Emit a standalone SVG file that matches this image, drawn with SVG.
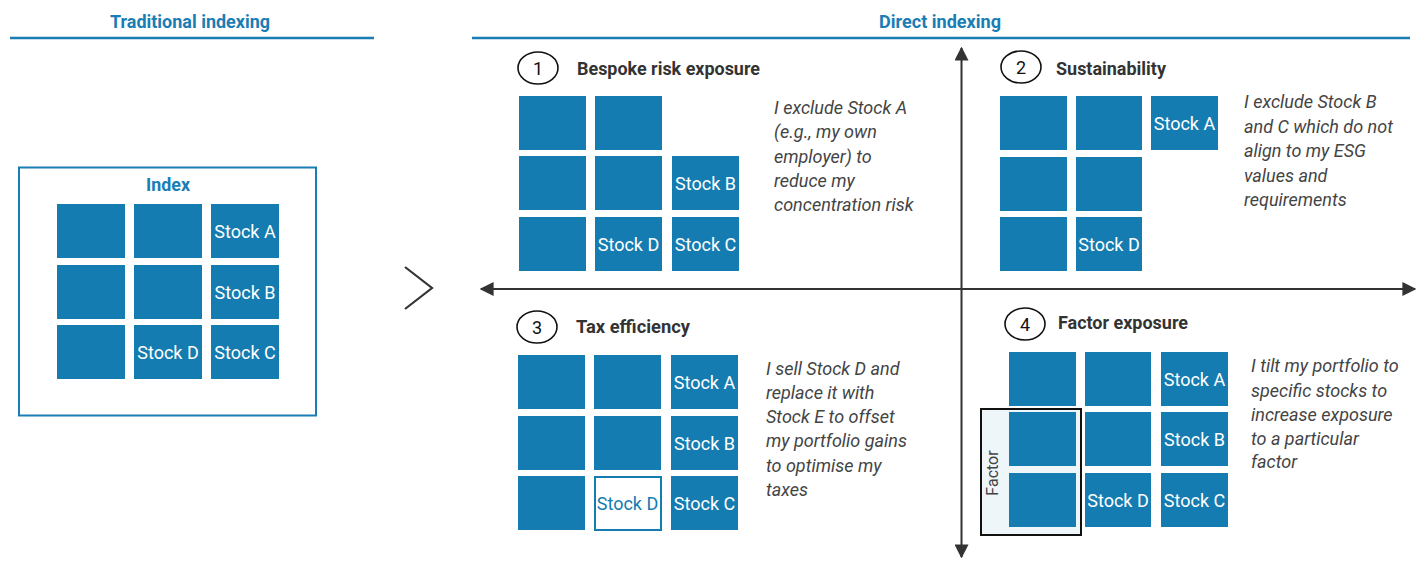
<svg xmlns="http://www.w3.org/2000/svg" width="1427" height="563" viewBox="0 0 1427 563">
<style>
.hdr{font-family:Roboto,"Liberation Sans",sans-serif;font-weight:bold;font-size:18px;fill:#1a7db5}
.rule{stroke:#1a7db5;stroke-width:2.5}
.sq{fill:#147cb0}
.sqw{fill:#fff;stroke:#147cb0;stroke-width:2}
.lbl{font-family:Roboto,"Liberation Sans",sans-serif;font-size:18px;fill:#fff;text-anchor:middle}
.lblb{font-family:Roboto,"Liberation Sans",sans-serif;font-size:18px;fill:#147cb0;text-anchor:middle}
.num{fill:none;stroke:#111;stroke-width:1.6}
.numt{font-family:Roboto,"Liberation Sans",sans-serif;font-size:18px;fill:#111;text-anchor:middle}
.ttl{font-family:Roboto,"Liberation Sans",sans-serif;font-weight:bold;font-size:18px;fill:#333}
.desc{font-family:Roboto,"Liberation Sans",sans-serif;font-style:italic;font-size:18px;fill:#444}
.axis{stroke:#333;stroke-width:2;fill:none}
</style>
<defs>
<marker id="ah" viewBox="0 0 10 10" refX="9" refY="5" markerWidth="7" markerHeight="7" orient="auto-start-reverse" markerUnits="strokeWidth">
<path d="M0,0 L10,5 L0,10 z" fill="#333"/>
</marker>
</defs>
<rect width="1427" height="563" fill="#fff"/>

<g id="traditional-header">
<text class="hdr" x="190" y="28" text-anchor="middle" textLength="160" lengthAdjust="spacingAndGlyphs">Traditional indexing</text>
<line class="rule" x1="10" y1="38" x2="374" y2="38"/>
</g>
<g id="direct-header">
<text class="hdr" x="940" y="28" text-anchor="middle" textLength="122" lengthAdjust="spacingAndGlyphs">Direct indexing</text>
<line class="rule" x1="472" y1="38" x2="1410" y2="38"/>
</g>

<g id="index">
<rect x="19" y="167.5" width="297" height="248" fill="none" stroke="#1a7db5" stroke-width="2"/>
<text class="hdr" x="168" y="191" text-anchor="middle" textLength="44" lengthAdjust="spacingAndGlyphs">Index</text>
<rect class="sq" x="57" y="204" width="68" height="54"/>
<rect class="sq" x="134" y="204" width="68" height="54"/>
<rect class="sq" x="211" y="204" width="68" height="54"/>
<rect class="sq" x="57" y="265" width="68" height="54"/>
<rect class="sq" x="134" y="265" width="68" height="54"/>
<rect class="sq" x="211" y="265" width="68" height="54"/>
<rect class="sq" x="57" y="325" width="68" height="54"/>
<rect class="sq" x="134" y="325" width="68" height="54"/>
<rect class="sq" x="211" y="325" width="68" height="54"/>
<text class="lbl" x="245" y="238">Stock A</text>
<text class="lbl" x="245" y="299">Stock B</text>
<text class="lbl" x="168" y="359">Stock D</text>
<text class="lbl" x="245" y="359">Stock C</text>
</g>

<g id="chevron">
<polyline points="405,267 432,288 405,309" fill="none" stroke="#333" stroke-width="2.2"/>
</g>

<g id="connectors">
<line class="axis" x1="961.5" y1="557" x2="961.5" y2="48" marker-start="url(#ah)" marker-end="url(#ah)"/>
<line class="axis" x1="481" y1="289" x2="1415" y2="289" marker-start="url(#ah)" marker-end="url(#ah)"/>
</g>

<g id="q1">
<ellipse class="num" cx="538" cy="68" rx="20" ry="16"/>
<text class="numt" x="538" y="75">1</text>
<text class="ttl" x="577" y="75" textLength="183" lengthAdjust="spacingAndGlyphs">Bespoke risk exposure</text>
<rect class="sq" x="519" y="96" width="67" height="54"/>
<rect class="sq" x="595" y="96" width="67" height="54"/>
<rect class="sq" x="519" y="156" width="67" height="54"/>
<rect class="sq" x="595" y="156" width="67" height="54"/>
<rect class="sq" x="672" y="156" width="67" height="54"/>
<rect class="sq" x="519" y="217" width="67" height="54"/>
<rect class="sq" x="595" y="217" width="67" height="54"/>
<rect class="sq" x="672" y="217" width="67" height="54"/>
<text class="lbl" x="705.5" y="190">Stock B</text>
<text class="lbl" x="628.5" y="251">Stock D</text>
<text class="lbl" x="705.5" y="251">Stock C</text>
<text class="desc"><tspan x="774" y="114">I exclude Stock A</tspan><tspan x="774" y="138">(e.g., my own</tspan><tspan x="774" y="163">employer) to</tspan><tspan x="774" y="187">reduce my</tspan><tspan x="774" y="211">concentration risk</tspan></text>
</g>

<g id="q2">
<ellipse class="num" cx="1021" cy="67" rx="20" ry="16"/>
<text class="numt" x="1021" y="74">2</text>
<text class="ttl" x="1056" y="75" textLength="110" lengthAdjust="spacingAndGlyphs">Sustainability</text>
<rect class="sq" x="1000" y="96" width="67" height="54"/>
<rect class="sq" x="1076" y="96" width="66" height="54"/>
<rect class="sq" x="1151" y="96" width="67" height="54"/>
<rect class="sq" x="1000" y="157" width="67" height="54"/>
<rect class="sq" x="1076" y="157" width="66" height="54"/>
<rect class="sq" x="1000" y="217" width="67" height="54"/>
<rect class="sq" x="1076" y="217" width="66" height="54"/>
<text class="lbl" x="1184.5" y="130">Stock A</text>
<text class="lbl" x="1109" y="251">Stock D</text>
<text class="desc"><tspan x="1244" y="108">I exclude Stock B</tspan><tspan x="1244" y="133">and C which do not</tspan><tspan x="1244" y="157">align to my ESG</tspan><tspan x="1244" y="182">values and</tspan><tspan x="1244" y="206">requirements</tspan></text>
</g>

<g id="q3">
<ellipse class="num" cx="537" cy="327" rx="20" ry="16"/>
<text class="numt" x="537" y="334">3</text>
<text class="ttl" x="576" y="333" textLength="114" lengthAdjust="spacingAndGlyphs">Tax efficiency</text>
<rect class="sq" x="518" y="355" width="67" height="54"/>
<rect class="sq" x="594" y="355" width="67" height="54"/>
<rect class="sq" x="671" y="355" width="67" height="54"/>
<rect class="sq" x="518" y="416" width="67" height="54"/>
<rect class="sq" x="594" y="416" width="67" height="54"/>
<rect class="sq" x="671" y="416" width="67" height="54"/>
<rect class="sq" x="518" y="476" width="67" height="54"/>
<rect class="sqw" x="595" y="477" width="66" height="53"/>
<rect class="sq" x="671" y="476" width="67" height="54"/>
<text class="lbl" x="704.5" y="389">Stock A</text>
<text class="lbl" x="704.5" y="450">Stock B</text>
<text class="lblb" x="627.5" y="510">Stock D</text>
<text class="lbl" x="704.5" y="510">Stock C</text>
<text class="desc"><tspan x="766" y="375">I sell Stock D and</tspan><tspan x="766" y="399">replace it with</tspan><tspan x="766" y="423">Stock E to offset</tspan><tspan x="766" y="447">my portfolio gains</tspan><tspan x="766" y="472">to optimise my</tspan><tspan x="766" y="496">taxes</tspan></text>
</g>

<g id="q4">
<ellipse class="num" cx="1025" cy="324" rx="20" ry="16"/>
<text class="numt" x="1025" y="331">4</text>
<text class="ttl" x="1058" y="329" textLength="130" lengthAdjust="spacingAndGlyphs">Factor exposure</text>
<rect x="981" y="409" width="100" height="126" fill="#eef6fa" stroke="#111" stroke-width="2"/>
<text x="992" y="473" transform="rotate(-90 992 473)" text-anchor="middle" dominant-baseline="central" font-family="Roboto,'Liberation Sans',sans-serif" font-size="16" fill="#444">Factor</text>
<rect class="sq" x="1009" y="352" width="67" height="54"/>
<rect class="sq" x="1085" y="352" width="66" height="54"/>
<rect class="sq" x="1161" y="352" width="67" height="54"/>
<rect class="sq" x="1009" y="412" width="67" height="54"/>
<rect class="sq" x="1085" y="412" width="66" height="54"/>
<rect class="sq" x="1161" y="412" width="67" height="54"/>
<rect class="sq" x="1009" y="473" width="67" height="54"/>
<rect class="sq" x="1085" y="473" width="66" height="54"/>
<rect class="sq" x="1161" y="473" width="67" height="54"/>
<text class="lbl" x="1194.5" y="386">Stock A</text>
<text class="lbl" x="1194.5" y="446">Stock B</text>
<text class="lbl" x="1118" y="507">Stock D</text>
<text class="lbl" x="1194.5" y="507">Stock C</text>
<text class="desc"><tspan x="1251" y="372">I tilt my portfolio to</tspan><tspan x="1251" y="397">specific stocks to</tspan><tspan x="1251" y="421">increase exposure</tspan><tspan x="1251" y="445">to a particular</tspan><tspan x="1251" y="468">factor</tspan></text>
</g>
</svg>
